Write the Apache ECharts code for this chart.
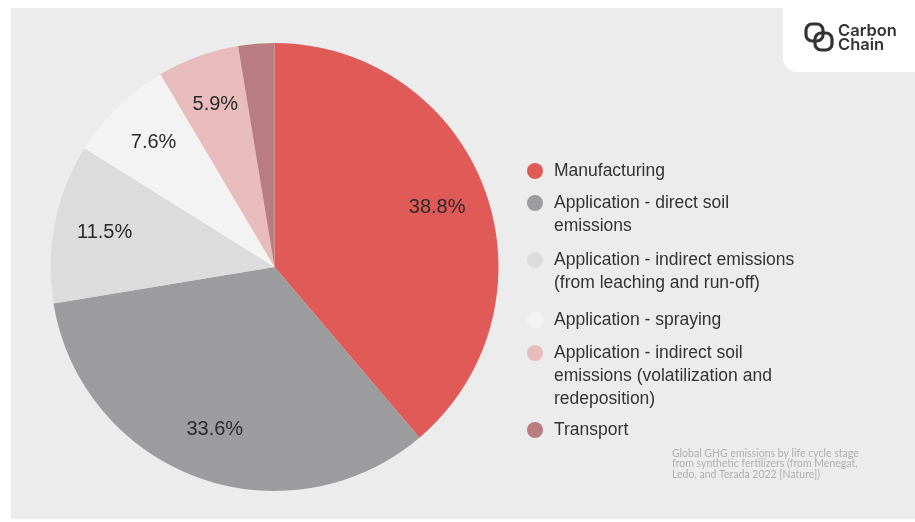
<!DOCTYPE html>
<html>
<head>
<meta charset="utf-8">
<script src="https://cdn.jsdelivr.net/npm/echarts@6/dist/echarts.min.js"></script>
<style>
html,body{margin:0;padding:0;background:#fff;}
#c{width:915px;height:522px;}
</style>
</head>
<body>
<div id="c"></div>
<script>
// ---- data ----
const categories = [
  'Manufacturing',
  'Application - direct soil emissions',
  'Application - indirect emissions (from leaching and run-off)',
  'Application - spraying',
  'Application - indirect soil emissions (volatilization and redeposition)',
  'Transport'
];
const legendLines = [
  ['Manufacturing'],
  ['Application - direct soil', 'emissions'],
  ['Application - indirect emissions', '(from leaching and run-off)'],
  ['Application - spraying'],
  ['Application - indirect soil', 'emissions (volatilization and', 'redeposition)'],
  ['Transport']
];
const values = [38.8, 33.6, 11.5, 7.6, 5.9, 2.6];
const labelTexts = ['38.8%', '33.6%', '11.5%', '7.6%', '5.9%', ''];
const colors = ['#e05b57', '#9c9c9e', '#dcdcdc', '#f3f3f3', '#e8bcbc', '#b97c80'];
const footnote = 'Global GHG emissions by life cycle stage\nfrom synthetic fertilizers (from Menegat,\nLedo, and Terada 2022 [Nature])';

// ---- chart ----
const chart = echarts.init(document.getElementById('c'), null, {renderer: 'canvas'});
const center = [274.5, 267];
const R = 224;
const LH = 23;
const firstLineY = [171, 203, 260, 320, 353, 430];

const legends = categories.map((name, i) => {
  const n = legendLines[i].length;
  const total = 2 * n - 1;
  return {
    data: [name],
    orient: 'vertical',
    left: 527,
    top: firstLineY[i] - total * LH / 2,
    padding: 0,
    icon: 'circle',
    itemWidth: 28,
    itemHeight: 16,
    selectedMode: false,
    formatter: function () {
      return '\n'.repeat(n - 1) + legendLines[i].join('\n');
    },
    textStyle: {
      fontFamily: 'Liberation Sans, Arial, sans-serif',
      fontSize: 17.5,
      color: '#333',
      lineHeight: LH
    }
  };
});

const mainData = categories.map((name, i) => ({name: name, value: values[i]}));
const labelData = categories.map((name, i) => ({name: name, value: values[i], label: {formatter: labelTexts[i]}}));

chart.setOption({
  animation: false,
  backgroundColor: '#ffffff',
  color: colors,
  legend: legends,
  graphic: [
    {type: 'rect', z: -10, shape: {x: 11, y: 8, width: 904, height: 511}, style: {fill: '#ececec'}},
    {type: 'rect', z: -5, shape: {x: 783, y: -10, width: 140, height: 82, r: [0, 0, 0, 14]}, style: {fill: '#ffffff'}},
    {type: 'rect', shape: {x: 806, y: 24, width: 17, height: 17, r: 6}, style: {fill: 'none', stroke: '#333', lineWidth: 3.2}},
    {type: 'rect', shape: {x: 815, y: 33, width: 17, height: 17, r: 6}, style: {fill: 'none', stroke: '#333', lineWidth: 3.2}},
    {type: 'text', left: 838, top: 23, style: {text: 'Carbon\nChain', font: '600 16.5px Inter, sans-serif', lineHeight: 14, fill: '#333'}},
    {type: 'text', left: 672, top: 448, style: {text: footnote, font: '10.5px Lato, sans-serif', lineHeight: 10.5, fill: '#b0b0b0'}}
  ],
  series: [
    {
      type: 'pie',
      center: center,
      radius: [0, R],
      startAngle: 90,
      clockwise: true,
      silent: true,
      label: {show: false},
      labelLine: {show: false},
      itemStyle: {borderWidth: 0},
      data: mainData
    },
    {
      type: 'pie',
      center: center,
      radius: [R * 0.52, R],
      startAngle: 90,
      clockwise: true,
      silent: true,
      itemStyle: {color: 'rgba(0,0,0,0)', borderWidth: 0},
      label: {
        show: true,
        position: 'inside',
        fontFamily: 'Liberation Sans, Arial, sans-serif',
        fontSize: 20,
        color: '#2b2b2b'
      },
      labelLine: {show: false},
      data: labelData
    }
  ]
});
</script>
</body>
</html>
